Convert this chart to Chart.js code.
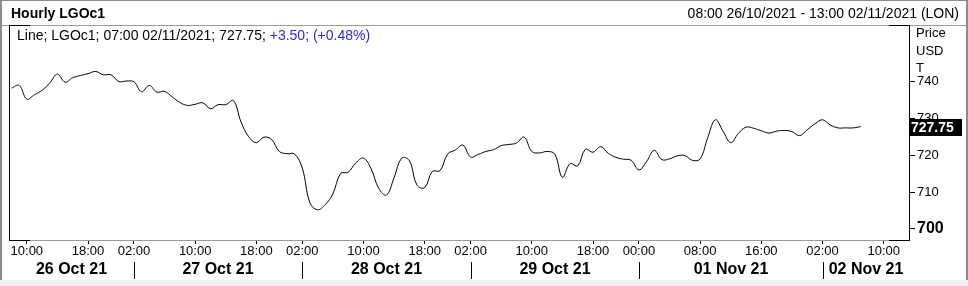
<!DOCTYPE html>
<html>
<head>
<meta charset="utf-8">
<script src="https://cdn.jsdelivr.net/npm/chart.js@4"></script>
<style>
  body { margin: 0; background: #fff; }
  canvas { display: block; }
</style>
</head>
<body>
<canvas id="chart" width="968" height="286"></canvas>
<script>
// trading days shown on the x axis (hourly bars, gaps skipped)
const days = ['26 Oct 21', '27 Oct 21', '28 Oct 21', '29 Oct 21', '01 Nov 21', '02 Nov 21'];
const dayDates = ['26/10', '27/10', '28/10', '29/10', '01/11', '02/11'];
const firstHour = [8, 2, 2, 2, 0, 2];
const lastHour = [23, 23, 23, 23, 23, 13];

const xTicks = ['26/10 10:00', '26/10 18:00', '27/10 02:00', '27/10 10:00', '27/10 18:00',
    '28/10 02:00', '28/10 10:00', '28/10 18:00', '29/10 02:00', '29/10 10:00', '29/10 18:00',
    '01/11 00:00', '01/11 08:00', '01/11 16:00', '02/11 02:00', '02/11 10:00'];
const yTicks = [700, 710, 720, 730, 740];

// LGOc1 hourly close, 08:00 26/10 .. 07:00 02/11
const price = [
    738.2, 738.9, 735.2, 736.4, 737.6, 739.6, 742.0, 739.8, 741.0, 741.6,
    742.1, 742.7, 741.8, 741.8, 740.0, 740.1, 739.9, 737.2, 738.9, 737.1,
    737.3, 735.8, 734.3, 733.5, 733.8, 734.2, 732.6, 733.7, 733.7, 734.8,
    729.0, 725.0, 723.4, 724.9, 724.2, 721.0, 720.4, 720.3, 716.5, 707.1,
    705.2, 706.6, 709.5, 715.0, 715.4, 717.9, 719.2, 716.3, 711.0, 709.2,
    713.9, 719.2, 718.5, 711.9, 711.2, 715.6, 715.8, 720.3, 721.4, 722.7,
    719.5, 720.2, 721.0, 721.5, 722.6, 722.9, 723.3, 724.9, 721.0, 720.6,
    721.0, 720.3, 714.0, 717.7, 717.1, 721.6, 720.8, 722.3, 720.5, 719.4,
    718.9, 718.6, 716.0, 718.3, 721.3, 718.8, 719.0, 719.8, 719.9, 718.6,
    719.0, 724.8, 729.6, 726.5, 723.4, 725.9, 727.6, 727.3, 726.6, 726.0,
    726.5, 726.7, 726.4, 725.3, 726.9, 728.5, 729.6, 728.2, 727.4, 727.4,
    727.4, 727.75
];
const changeText = '+3.50; (+0.48%)';

const categories = [];
const dayStart = [];
days.forEach((d, k) => {
    dayStart.push(categories.length);
    for (let h = firstHour[k]; h <= lastHour[k]; h++) {
        categories.push(dayDates[k] + ' ' + String(h).padStart(2, '0') + ':00');
    }
});

const lastIdx = price.length - 1;
const lastCat = categories[lastIdx];
const FONT = '"Liberation Sans", Arial, sans-serif';

const framePlugin = {
    id: 'frame',
    afterDraw(chart) {
        const ctx = chart.ctx;
        const a = chart.chartArea;
        const xs = chart.scales.x, ys = chart.scales.y;
        ctx.save();

        // outer widget frame
        ctx.fillStyle = '#f0f0f0';
        ctx.fillRect(0, 280, 968, 6);
        ctx.fillStyle = '#8c8c8c';
        ctx.fillRect(0, 0, 968, 1);
        ctx.fillRect(0, 0, 2, 280);
        ctx.fillRect(966, 0, 2, 280);

        // plot box
        ctx.lineWidth = 1;
        ctx.strokeStyle = '#9b9b9b';
        ctx.beginPath();
        ctx.moveTo(2, a.top + 0.5); ctx.lineTo(966, a.top + 0.5);
        ctx.moveTo(a.left, a.bottom + 0.5); ctx.lineTo(a.right, a.bottom + 0.5);
        ctx.stroke();
        ctx.strokeStyle = '#000';
        ctx.beginPath();
        ctx.moveTo(a.left + 0.5, a.top); ctx.lineTo(a.left + 0.5, a.bottom + 1);
        ctx.moveTo(a.right + 0.5, a.top); ctx.lineTo(a.right + 0.5, a.bottom + 1);
        ctx.moveTo(a.left, a.top + 0.5); ctx.lineTo(a.left + 21, a.top + 0.5);
        ctx.moveTo(a.right - 20, a.top + 0.5); ctx.lineTo(a.right, a.top + 0.5);
        ctx.moveTo(a.left, a.bottom + 0.5); ctx.lineTo(a.left + 21, a.bottom + 0.5);
        ctx.moveTo(a.right - 20, a.bottom + 0.5); ctx.lineTo(a.right, a.bottom + 0.5);
        ctx.stroke();

        // header
        ctx.textBaseline = 'middle';
        ctx.fillStyle = '#000';
        ctx.font = 'bold 14px ' + FONT;
        ctx.textAlign = 'left';
        ctx.fillText('Hourly LGOc1', 11, 14);
        ctx.font = '14px ' + FONT;
        ctx.textAlign = 'right';
        ctx.fillText('08:00 26/10/2021 - 13:00 02/11/2021 (LON)', 959, 14);

        // info line
        ctx.textAlign = 'left';
        const info = 'Line; LGOc1; ' + lastCat.slice(6) + ' ' + lastCat.slice(0, 5) + '/2021; ' + price[lastIdx] + '; ';
        ctx.fillText(info, 17, 36);
        ctx.fillStyle = '#2a2ae0';
        ctx.fillText(changeText, 17 + ctx.measureText(info).width, 36);

        // axis caption
        ctx.fillStyle = '#000';
        ctx.font = '13px ' + FONT;
        ctx.fillText('Price', 916, 33);
        ctx.fillText('USD', 916, 51);
        ctx.fillText('T', 916, 68);

        // day separators and day names
        ctx.font = 'bold 16px ' + FONT;
        ctx.textAlign = 'center';
        ctx.beginPath();
        days.forEach((d, k) => {
            const x0 = k === 0 ? a.left : Math.round(xs.getPixelForValue(dayStart[k]));
            const x1 = k === days.length - 1 ? a.right : Math.round(xs.getPixelForValue(dayStart[k + 1]));
            if (k > 0) {
                ctx.moveTo(x0 + 0.5, 262);
                ctx.lineTo(x0 + 0.5, 279);
            }
            ctx.fillText(d, (x0 + x1) / 2, 270);
        });
        ctx.stroke();

        // last value tag
        const yl = ys.getPixelForValue(price[lastIdx]);
        ctx.fillStyle = '#000';
        ctx.fillRect(a.right, Math.round(yl) - 8, 53, 17);
        ctx.fillStyle = '#fff';
        ctx.font = 'bold 14px ' + FONT;
        ctx.textAlign = 'left';
        ctx.fillText(price[lastIdx].toFixed(2), a.right + 2, Math.round(yl) + 1);
        ctx.restore();
    }
};

new Chart(document.getElementById('chart').getContext('2d'), {
    type: 'line',
    data: {
        datasets: [{
            data: price.map((v, i) => ({ x: i, y: v })),
            borderColor: '#000',
            borderWidth: 1,
            pointRadius: 0,
            tension: 0.4,
            fill: false
        }]
    },
    options: {
        responsive: false,
        animation: false,
        events: [],
        layout: { padding: { left: 9, top: 25, right: 0, bottom: 0 } },
        plugins: { legend: { display: false }, tooltip: { enabled: false } },
        scales: {
            x: {
                type: 'linear',
                min: -0.33,
                max: 117.3,
                afterFit: s => { s.height = 46; },
                afterBuildTicks: s => { s.ticks = xTicks.map(t => ({ value: categories.indexOf(t) })); },
                grid: { drawOnChartArea: false, drawTicks: true, tickLength: 4, color: '#000' },
                border: { display: false },
                ticks: {
                    autoSkip: false,
                    maxRotation: 0,
                    padding: 0,
                    color: '#000',
                    font: { family: FONT, size: 13 },
                    callback: v => categories[v].slice(6)
                }
            },
            y: {
                position: 'right',
                min: 697.0,
                max: 755.3,
                afterFit: s => { s.width = 59; },
                afterBuildTicks: s => { s.ticks = yTicks.map(v => ({ value: v })); },
                grid: { drawOnChartArea: false, drawTicks: true, tickLength: 6, color: '#000' },
                border: { display: false },
                ticks: {
                    padding: 2,
                    color: '#000',
                    font: c => (c.tick && c.tick.value === 700)
                        ? { family: FONT, size: 16, weight: 'bold' }
                        : { family: FONT, size: 13 }
                }
            }
        }
    },
    plugins: [framePlugin]
});
</script>
</body>
</html>
